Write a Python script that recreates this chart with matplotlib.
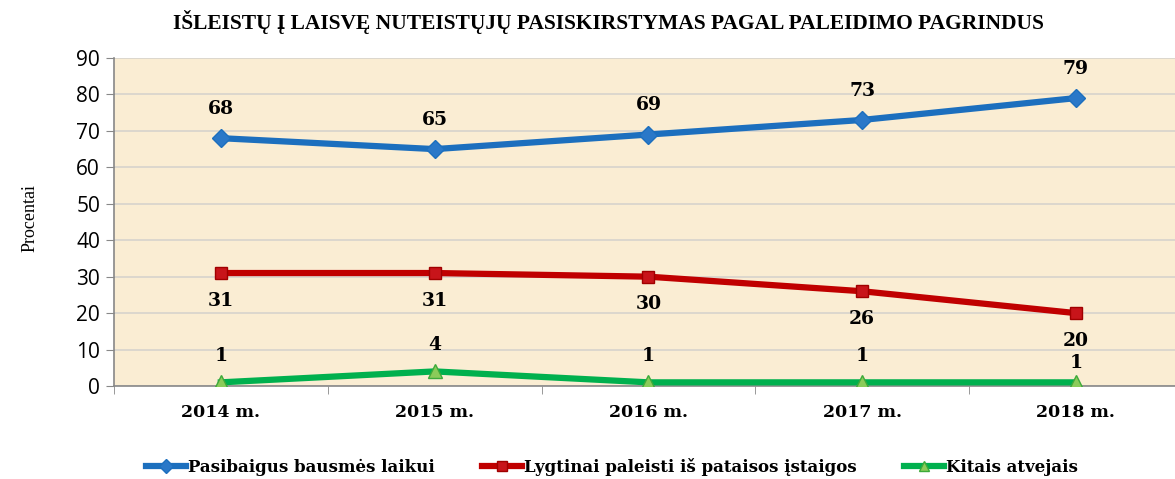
import matplotlib

matplotlib.use("Agg")
import matplotlib.pyplot as plt
from matplotlib.ticker import FixedLocator

years = ["2014 m.", "2015 m.", "2016 m.", "2017 m.", "2018 m."]
pasibaigus = [68, 65, 69, 73, 79]
lygtinai = [31, 31, 30, 26, 20]
kitais = [1, 4, 1, 1, 1]
yticks = [0, 10, 20, 30, 40, 50, 60, 70, 80, 90]

TITLE = "IŠLEISTŲ Į LAISVĘ NUTEISTŲJŲ PASISKIRSTYMAS PAGAL PALEIDIMO PAGRINDUS"
SERIF = ["Liberation Serif", "DejaVu Serif"]
LABEL_FONT = ["DejaVu Serif"]

# label offsets in points (last green label squeezed under the red one)
OFF_BLUE = 21
OFF_RED = -20
OFF_GREEN = [19, 19, 19, 19, 14]


def main() -> None:
    fig = plt.figure(figsize=(11.75, 4.79), dpi=100)
    ax = fig.add_axes([114 / 1175, 1 - 386 / 479, 1 - 114 / 1175, (386 - 58) / 479])
    ax.set_facecolor("#FAEDD3")

    x = list(range(len(years)))
    ax.plot(x, pasibaigus, color="#1C6FBE", lw=4.5, marker="D", ms=9,
            mfc="#2A78C8", mec="#1C6FBE", label="Pasibaigus bausmės laikui", zorder=3)
    ax.plot(x, lygtinai, color="#C00000", lw=4.5, marker="s", ms=9,
            mfc="#C8141A", mec="#A00000", label="Lygtinai paleisti iš pataisos įstaigos", zorder=3)
    ax.plot(x, kitais, color="#00B04E", lw=4.5, marker="^", ms=10,
            mfc="#8BCB5A", mec="#3DAA3A", label="Kitais atvejais", zorder=3)

    lab = dict(fontsize=13.5, fontweight="bold", family=LABEL_FONT, ha="center",
               va="center", textcoords="offset points")
    for i in x:
        ax.annotate(str(pasibaigus[i]), (i, pasibaigus[i]), xytext=(0, OFF_BLUE), **lab)
        ax.annotate(str(lygtinai[i]), (i, lygtinai[i]), xytext=(0, OFF_RED), **lab)
        ax.annotate(str(kitais[i]), (i, kitais[i]), xytext=(0, OFF_GREEN[i]), **lab)

    ax.set_ylim(0, 90)
    ax.set_xlim(-0.5, 4 + (1175 - 1076) / 213.5)
    ax.set_yticks(yticks)
    ax.tick_params(axis="y", labelsize=15, length=6, color="#888888", pad=4)
    for t in ax.get_yticklabels():
        t.set_family(["Open Sans", "DejaVu Sans"])
    ax.set_xticks(x)
    ax.set_xticklabels(years, fontsize=12.5, fontweight="bold", family=LABEL_FONT)
    ax.tick_params(axis="x", which="major", length=0, pad=13)
    ax.xaxis.set_minor_locator(FixedLocator([-0.5, 0.5, 1.5, 2.5, 3.5]))
    ax.tick_params(axis="x", which="minor", length=6, color="#888888")

    ax.grid(axis="y", color="#D6D3CC", lw=1.2)
    ax.set_axisbelow(True)
    for s in ("top", "right"):
        ax.spines[s].set_visible(False)
    for s in ("left", "bottom"):
        ax.spines[s].set_color("#888888")
        ax.spines[s].set_linewidth(1.2)

    fig.text(30 / 1175, 1 - 218 / 479, "Procentai", rotation=90, ha="center",
             va="center", fontsize=13, family=SERIF)
    fig.text(608 / 1175, 1 - 22 / 479, TITLE, ha="center", va="center", fontsize=15.5,
             fontweight="bold", family=SERIF)

    fig.legend(loc="center", bbox_to_anchor=(612 / 1175, 1 - 467 / 479), ncol=3,
               frameon=False, handlelength=2.4, handletextpad=0.15, columnspacing=2.8,
               markerscale=0.75,
               prop={"family": LABEL_FONT, "weight": "bold", "size": 12})

    fig.savefig("out.png", dpi=100)


if __name__ == "__main__":
    main()
